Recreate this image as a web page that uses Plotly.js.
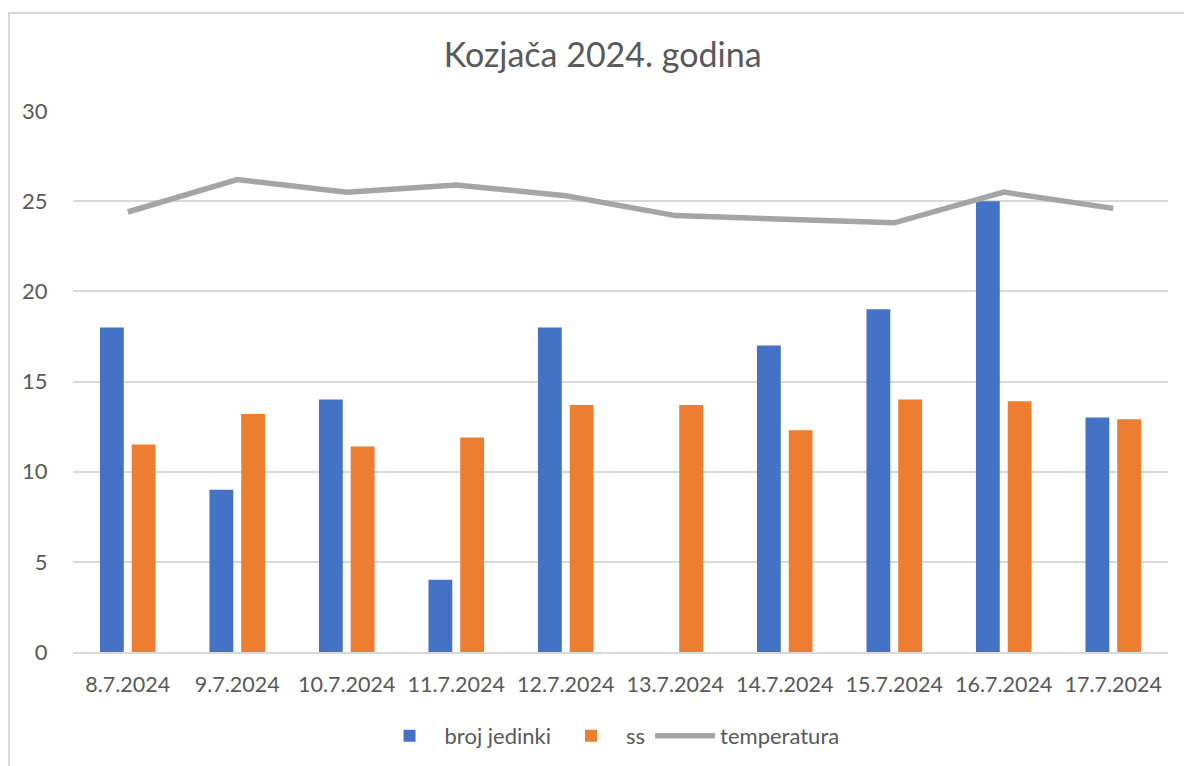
<!DOCTYPE html>
<html>
<head>
<meta charset="utf-8">
<script src="https://cdn.plot.ly/plotly-3.0.1.min.js"></script>
<style>
html,body{margin:0;padding:0;background:#fff;}
#frame{position:absolute;left:8px;top:12px;width:1200px;height:800px;border:2px solid #d9d9d9;box-sizing:border-box;}
#chart{position:absolute;left:0;top:0;width:1184px;height:766px;}
</style>
</head>
<body>
<div id="frame"></div>
<div id="chart"></div>
<script>
const dates = ["8.7.2024","9.7.2024","10.7.2024","11.7.2024","12.7.2024","13.7.2024","14.7.2024","15.7.2024","16.7.2024","17.7.2024"];
const brojJedinki = [18, 9, 14, 4, 18, null, 17, 19, 25, 13];
const ss = [11.5, 13.2, 11.4, 11.9, 13.7, 13.7, 12.3, 14.0, 13.9, 12.9];
const temperatura = [24.4, 26.2, 25.5, 25.9, 25.3, 24.2, 24.0, 23.8, 25.5, 24.6];
const yTicks = [0, 5, 10, 15, 20, 25, 30];

const FONT = "Lato, 'Open Sans', sans-serif";
const TXT = "#595959";

const traces = [
  {type:"bar", name:"broj jedinki", x:dates, y:brojJedinki, marker:{color:"#4472c4"}},
  {type:"bar", name:"ss", x:dates, y:ss, marker:{color:"#ed7d31"}},
  {type:"scatter", mode:"lines", name:"temperatura", x:dates, y:temperatura,
   line:{color:"#a5a5a5", width:5.5}}
];

const layout = {
  width:1184, height:766,
  paper_bgcolor:"rgba(0,0,0,0)", plot_bgcolor:"rgba(0,0,0,0)",
  margin:{l:73, r:16, t:111, b:114, autoexpand:false},
  font:{family:FONT, color:TXT, size:21},
  title:{text:"Kozjača 2024. godina", x:0.509, xref:"container", xanchor:"center",
         y:58, yref:"container", yanchor:"middle",
         font:{family:FONT, size:34, color:TXT}},
  barmode:"group", bargap:0.42, bargroupgap:0.25,
  xaxis:{type:"category", showgrid:false, showline:true, linecolor:"#d9d9d9", linewidth:2,
         ticks:"outside", ticklen:12, tickcolor:"rgba(0,0,0,0)",
         tickfont:{family:FONT, size:21.5, color:TXT}, fixedrange:true},
  yaxis:{range:[0,30], tickvals:yTicks, ticktext:yTicks.map(String),
         showgrid:true, gridcolor:"#d9d9d9", gridwidth:2, zeroline:false, showline:false,
         ticks:"outside", ticklen:20, tickcolor:"rgba(0,0,0,0)",
         tickfont:{family:FONT, size:22, color:TXT}, fixedrange:true},
  showlegend:true,
  legend:{orientation:"h", x:0.49, xanchor:"center", y:-0.155, yanchor:"middle",
          font:{family:FONT, size:22, color:TXT}, itemwidth:60, traceorder:"normal"},
  hovermode:false
};

Plotly.newPlot("chart", traces, layout, {staticPlot:true, displayModeBar:false});
</script>
</body>
</html>
